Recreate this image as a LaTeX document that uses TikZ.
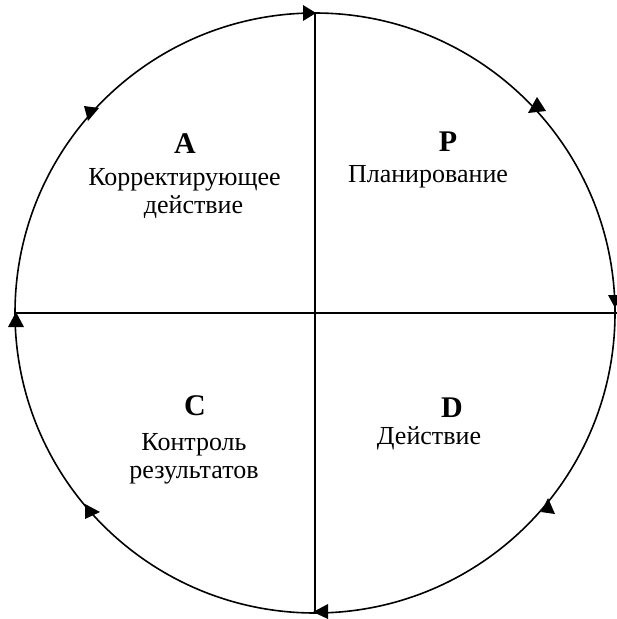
\documentclass[tikz,border=0pt]{standalone}
\usepackage{fontspec}
\setmainfont{Liberation Serif}
\begin{document}
\begin{tikzpicture}[x=1pt,y=-1pt, line width=1.6pt,
  lbl/.style={anchor=base, inner sep=0pt, font=\fontsize{26}{30}\selectfont},
  big/.style={anchor=base, inner sep=0pt, font=\fontsize{30}{32}\selectfont\bfseries},
  tip/.style={fill=black, draw=none}]
\useasboundingbox (0,0) rectangle (617,619);
\coordinate (O) at (315,313);
\coordinate (T) at (315,13);
\coordinate (B) at (315,613);
\coordinate (L) at (15,313);
\coordinate (R) at (617,313);
\draw (O) circle[radius=300pt];
\draw (T) -- (B);
\draw (L) -- (R);
% arrowheads on the circle
\fill[tip] (316,13) -- (303,5) -- (303,21) -- cycle;
\fill[tip] (615,308) -- (608,295) -- (622,295) -- cycle;
\fill[tip] (313,612) -- (328,604) -- (328,619) -- cycle;
\fill[tip] (16,312) -- (8,327) -- (24,327) -- cycle;
\fill[tip] (537,97) -- (528,113) -- (546,111) -- cycle;
\fill[tip] (548,498) -- (541,512) -- (555,514) -- cycle;
\fill[tip] (85,504) -- (85,519) -- (100,512) -- cycle;
\fill[tip] (84,106) -- (99,108) -- (88,121) -- cycle;
% texts
\node[big] (A) at (185,153) {A};
\node[lbl] (A1) at (184.5,185) {Корректирующее};
\node[lbl] (A2) at (193.5,213) {действие};
\node[big] (P) at (448,151) {P};
\node[lbl] (P1) at (428,182) {Планирование};
\node[big] (C) at (195,415) {C};
\node[lbl] (C1) at (194,450) {Контроль};
\node[lbl] (C2) at (194,478) {результатов};
\node[big] (D) at (452,417) {D};
\node[lbl] (D1) at (429,444) {Действие};
\end{tikzpicture}
\end{document}
